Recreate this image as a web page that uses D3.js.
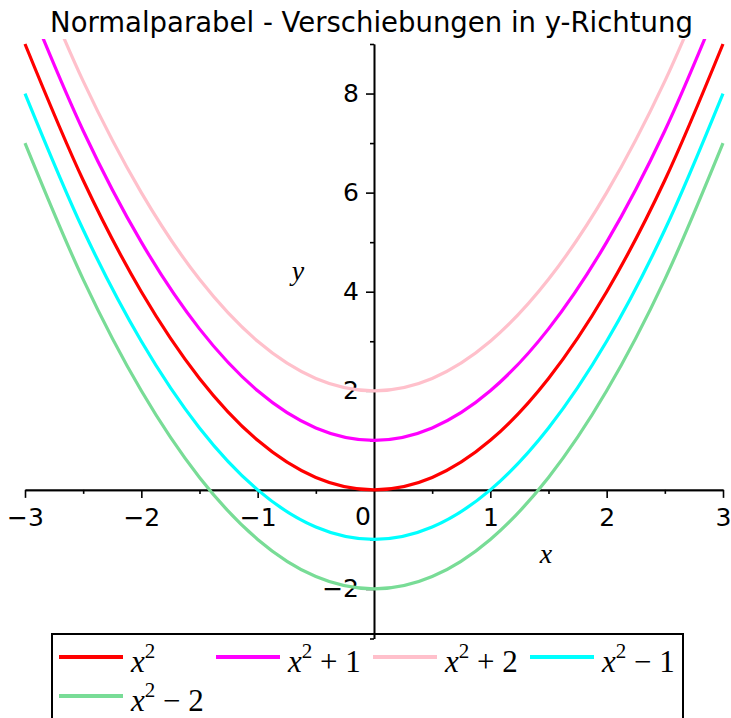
<!doctype html>
<html>
<head>
<meta charset="utf-8">
<style>
  body { margin: 0; background: #fff; }
  .tick text { font-family: "DejaVu Sans", sans-serif; font-size: 25px; fill: #000; }
  .title { font-family: "DejaVu Sans", sans-serif; }
  .mathlbl { font-family: "Liberation Serif", serif; font-style: italic; }
  .leg { font-family: "Liberation Serif", serif; font-size: 31px; }
</style>
<script src="https://d3js.org/d3.v7.min.js"></script>
</head>
<body>
<svg width="731" height="718" id="chart"></svg>
<script>
// sample points
var xs = [-3, -2.5, -2, -1.5, -1, -0.5, 0, 0.5, 1, 1.5, 2, 2.5, 3];
var yRed     = [9, 6.25, 4, 2.25, 1, 0.25, 0, 0.25, 1, 2.25, 4, 6.25, 9];
var yMagenta = [10, 7.25, 5, 3.25, 2, 1.25, 1, 1.25, 2, 3.25, 5, 7.25, 10];
var yPink    = [11, 8.25, 6, 4.25, 3, 2.25, 2, 2.25, 3, 4.25, 6, 8.25, 11];
var yCyan    = [8, 5.25, 3, 1.25, 0, -0.75, -1, -0.75, 0, 1.25, 3, 5.25, 8];
var yGreen   = [7, 4.25, 2, 0.25, -1, -1.75, -2, -1.75, -1, 0.25, 2, 4.25, 7];

var seriesNames = ["x2", "x2+1", "x2+2", "x2-1", "x2-2"];
var seriesColors = ["#ff0000", "#ff00ff", "#ffc0cb", "#00ffff", "#78dc96"];
var seriesValues = [yRed, yMagenta, yPink, yCyan, yGreen];
// legend label text after the x^2 part
var legendRest = ["", " + 1", " + 2", " \u2212 1", " \u2212 2"];

var xMajor = [-3, -2, -1, 1, 2, 3];
var xMinor = [-2.5, -1.5, -0.5, 0.5, 1.5, 2.5];
var yMajor = [-2, 2, 4, 6, 8];
var yMinor = [-3, -1, 1, 3, 5, 7, 9];

var svg = d3.select("#chart");

var x = d3.scaleLinear().domain([-3, 3]).range([25, 723]);
var y = d3.scaleLinear().domain([-3, 9]).range([638.5, 44]);

// title
var title = svg.append("text")
  .attr("class", "title")
  .attr("x", 371.5)
  .attr("y", 32)
  .attr("text-anchor", "middle")
  .attr("font-size", 24)
  .text("Normalparabel - Verschiebungen in y-Richtung");
var tw = title.node().getComputedTextLength();
title.attr("font-size", 24 * 643 / tw);

// clip for curves
svg.append("clipPath").attr("id", "plotclip")
  .append("rect")
  .attr("x", x(-3) - 3).attr("y", y(9.1))
  .attr("width", x(3) - x(-3) + 6).attr("height", y(-3) - y(9.1));

// axes
var fmt = function(d) { return d < 0 ? "\u2212" + Math.abs(d) : d; };

var gx = svg.append("g").attr("transform", "translate(0," + y(0) + ")");
gx.call(d3.axisBottom(x).tickValues(xMinor).tickSize(4).tickSizeOuter(0).tickFormat(""));
gx.append("g").call(d3.axisBottom(x).tickValues(xMajor).tickSize(8).tickSizeOuter(0).tickPadding(4).tickFormat(fmt));
gx.selectAll("path.domain").attr("stroke-width", 1.6);
gx.selectAll(".tick line").attr("stroke-width", 1.6);
gx.selectAll("text").attr("dy", "0.98em");

var gy = svg.append("g").attr("transform", "translate(" + x(0) + ",0)");
gy.call(d3.axisLeft(y).tickValues(yMinor).tickSize(4).tickSizeOuter(0).tickFormat(""));
gy.append("g").call(d3.axisLeft(y).tickValues(yMajor).tickSize(8).tickSizeOuter(0).tickPadding(7).tickFormat(fmt));
gy.selectAll("path.domain").attr("stroke-width", 1.6);
gy.selectAll(".tick line").attr("stroke-width", 1.6);

// origin label
svg.append("text")
  .attr("x", x(0) - 3).attr("y", y(0) + 35)
  .attr("text-anchor", "end")
  .attr("font-family", "DejaVu Sans, sans-serif")
  .attr("font-size", 25)
  .text("0");

// axis names
svg.append("text").attr("class", "mathlbl")
  .attr("x", 298).attr("y", 280).attr("text-anchor", "middle")
  .attr("font-size", 28).text("y");
svg.append("text").attr("class", "mathlbl")
  .attr("x", 546).attr("y", 563).attr("text-anchor", "middle")
  .attr("font-size", 28).text("x");

// curves
var line = d3.line()
  .x(function(d) { return x(d[0]); })
  .y(function(d) { return y(d[1]); })
  .curve(d3.curveCatmullRom.alpha(0));

var gc = svg.append("g").attr("clip-path", "url(#plotclip)");
seriesValues.forEach(function(vals, i) {
  gc.append("path")
    .datum(xs.map(function(v, j) { return [v, vals[j]]; }))
    .attr("fill", "none")
    .attr("stroke", seriesColors[i])
    .attr("stroke-width", 3.2)
    .attr("d", line);
});

// legend
svg.append("rect")
  .attr("x", 52).attr("y", 634)
  .attr("width", 631).attr("height", 100)
  .attr("fill", "none")
  .attr("stroke", "#000")
  .attr("stroke-width", 2);

var legend = svg.append("g");
seriesNames.forEach(function(name, i) {
  var col = i % 4, row = Math.floor(i / 4);
  var lx = 59 + col * 157, ly = 657 + row * 39;
  legend.append("line")
    .attr("x1", lx).attr("x2", lx + 64)
    .attr("y1", ly).attr("y2", ly)
    .attr("stroke", seriesColors[i])
    .attr("stroke-width", 4);
  var t = legend.append("text").attr("class", "leg")
    .attr("x", lx + 72).attr("y", ly + 15);
  t.append("tspan").attr("font-style", "italic").text("x");
  t.append("tspan").attr("font-size", 21).attr("dy", -14).text("2");
  t.append("tspan").attr("dy", 14).text(legendRest[i]);
});
</script>
</body>
</html>
